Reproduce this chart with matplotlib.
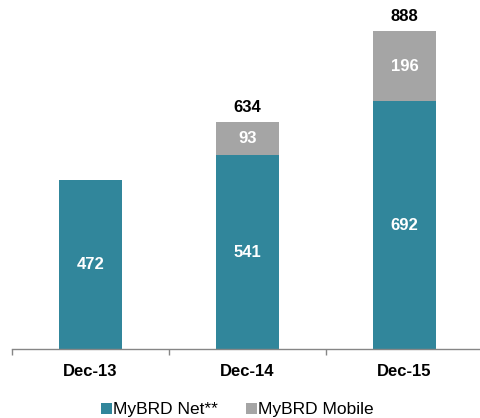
import numpy as np
import matplotlib
matplotlib.use("Agg")
import matplotlib.pyplot as plt

plt.rcParams['font.family'] = ['Liberation Sans', 'DejaVu Sans']

categories = ['Dec-13', 'Dec-14', 'Dec-15']
net = [472, 541, 692]
mobile = [0, 93, 196]
series_names = ['MyBRD Net**', 'MyBRD Mobile']

teal = '#31869B'
gray = '#A5A5A5'

fig = plt.figure(figsize=(4.8, 4.18), dpi=100)
# axes runs a little past the right edge, like the original
ax = fig.add_axes([12 / 480, 69 / 418, 471 / 480, 349 / 418])

x = np.arange(len(categories))
w = 0.395
b1 = ax.bar(x, net, w, color=teal, label=series_names[0])
b2 = ax.bar(x, mobile, w, bottom=net, color=gray, label=series_names[1])

for i in range(len(categories)):
    ax.text(x[i], net[i] / 2, str(net[i]), ha='center', va='center',
            color='white', fontsize=12, fontweight='bold')
    if mobile[i] > 0:
        ax.text(x[i], net[i] + mobile[i] / 2, str(mobile[i]), ha='center',
                va='center', color='white', fontsize=12, fontweight='bold')
        total = net[i] + mobile[i]
        ax.annotate(str(total), (x[i], total), xytext=(0, 5),
                    textcoords='offset points', ha='center', va='bottom',
                    fontsize=12, fontweight='bold')

ax.set_xlim(-0.5, len(categories) - 0.5)
ax.set_ylim(0, 975)

for s in ['top', 'right', 'left']:
    ax.spines[s].set_visible(False)
ax.spines['bottom'].set_color('#868686')
ax.spines['bottom'].set_linewidth(1.0)
ax.set_yticks([])

ax.set_xticks(x)
ax.set_xticklabels(categories, fontsize=12, fontweight='bold')
ax.tick_params(axis='x', which='major', length=0, pad=11)
ax.set_xticks(np.arange(len(categories) + 1) - 0.5, minor=True)
ax.tick_params(axis='x', which='minor', length=4, width=1.0,
               color='#868686', direction='out')

# legend sits right at the bottom edge
fig.legend(handles=[b1, b2], labels=series_names, loc='center',
           bbox_to_anchor=(0.495, 0.02), ncol=2, frameon=False,
           fontsize=12.5, handlelength=0.6, handleheight=0.6,
           handletextpad=0.1, columnspacing=1.6, borderpad=0)

fig.savefig('out.png', dpi=100)
